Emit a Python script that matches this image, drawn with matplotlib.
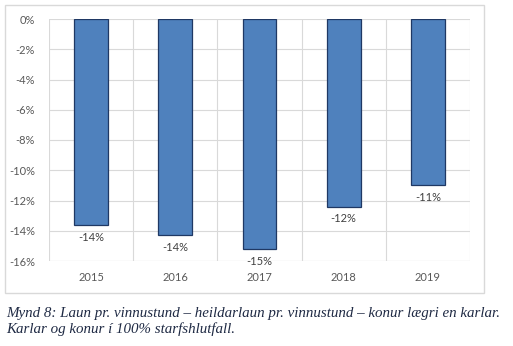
import matplotlib.pyplot as plt
from matplotlib.patches import Rectangle
import numpy as np

years = ["2015", "2016", "2017", "2018", "2019"]
values = [-13.6, -14.3, -15.2, -12.4, -11.0]
labels = ["-14%", "-14%", "-15%", "-12%", "-11%"]
yticks = [0, -2, -4, -6, -8, -10, -12, -14, -16]

W, H = 513, 346
fig = plt.figure(figsize=(W / 100, H / 100), dpi=100)

# chart frame
fig.patches.append(Rectangle((5 / W, 1 - 293 / H), (484 - 5) / W, (293 - 5) / H,
                             transform=fig.transFigure, fill=False,
                             edgecolor="#d9d9d9", linewidth=1))

ax = fig.add_axes([49 / W, 1 - 261 / H, (470 - 49) / W, (261 - 19) / H])
x = np.arange(len(years))
ax.bar(x, values, width=0.4, color="#4f81bd", edgecolor="#1f3864",
       linewidth=0.9, zorder=3)

for xi, v, lab in zip(x, values, labels):
    ax.text(xi, v - 0.45, lab, ha="center", va="top", fontsize=8,
            family="Lato", color="#404040", zorder=4)

ax.set_xlim(-0.5, len(years) - 0.5)
ax.set_ylim(-16, 0)
ax.set_yticks(yticks)
ax.set_yticklabels([f"{t}%" for t in yticks], fontsize=8, family="Lato", color="#595959")
ax.set_xticks(x)
ax.set_xticklabels(years, fontsize=8, family="Lato", color="#595959")
ax.set_xticks(np.arange(-0.5, len(years)), minor=True)
ax.tick_params(axis="both", which="both", length=0)
ax.tick_params(axis="x", pad=8)
ax.tick_params(axis="y", pad=10)
ax.grid(True, axis="y", color="#d9d9d9", linewidth=0.8, zorder=0)
ax.grid(True, axis="x", which="minor", color="#d9d9d9", linewidth=0.8, zorder=0)
for s in ax.spines.values():
    s.set_visible(False)
ax.axhline(-16, color="#d9d9d9", linewidth=0.8, zorder=1)

fig.text(6 / W, 1 - 317 / H,
         "Mynd 8: Laun pr. vinnustund \u2013 heildarlaun pr. vinnustund \u2013 konur lægri en karlar.",
         fontsize=10.8, style="italic", family="Liberation Serif", color="#1f2a44",
         va="baseline", ha="left")
fig.text(6 / W, 1 - 333 / H, "Karlar og konur í 100% starfshlutfall.",
         fontsize=10.8, style="italic", family="Liberation Serif", color="#1f2a44",
         va="baseline", ha="left")

fig.savefig("out.png", dpi=100)
